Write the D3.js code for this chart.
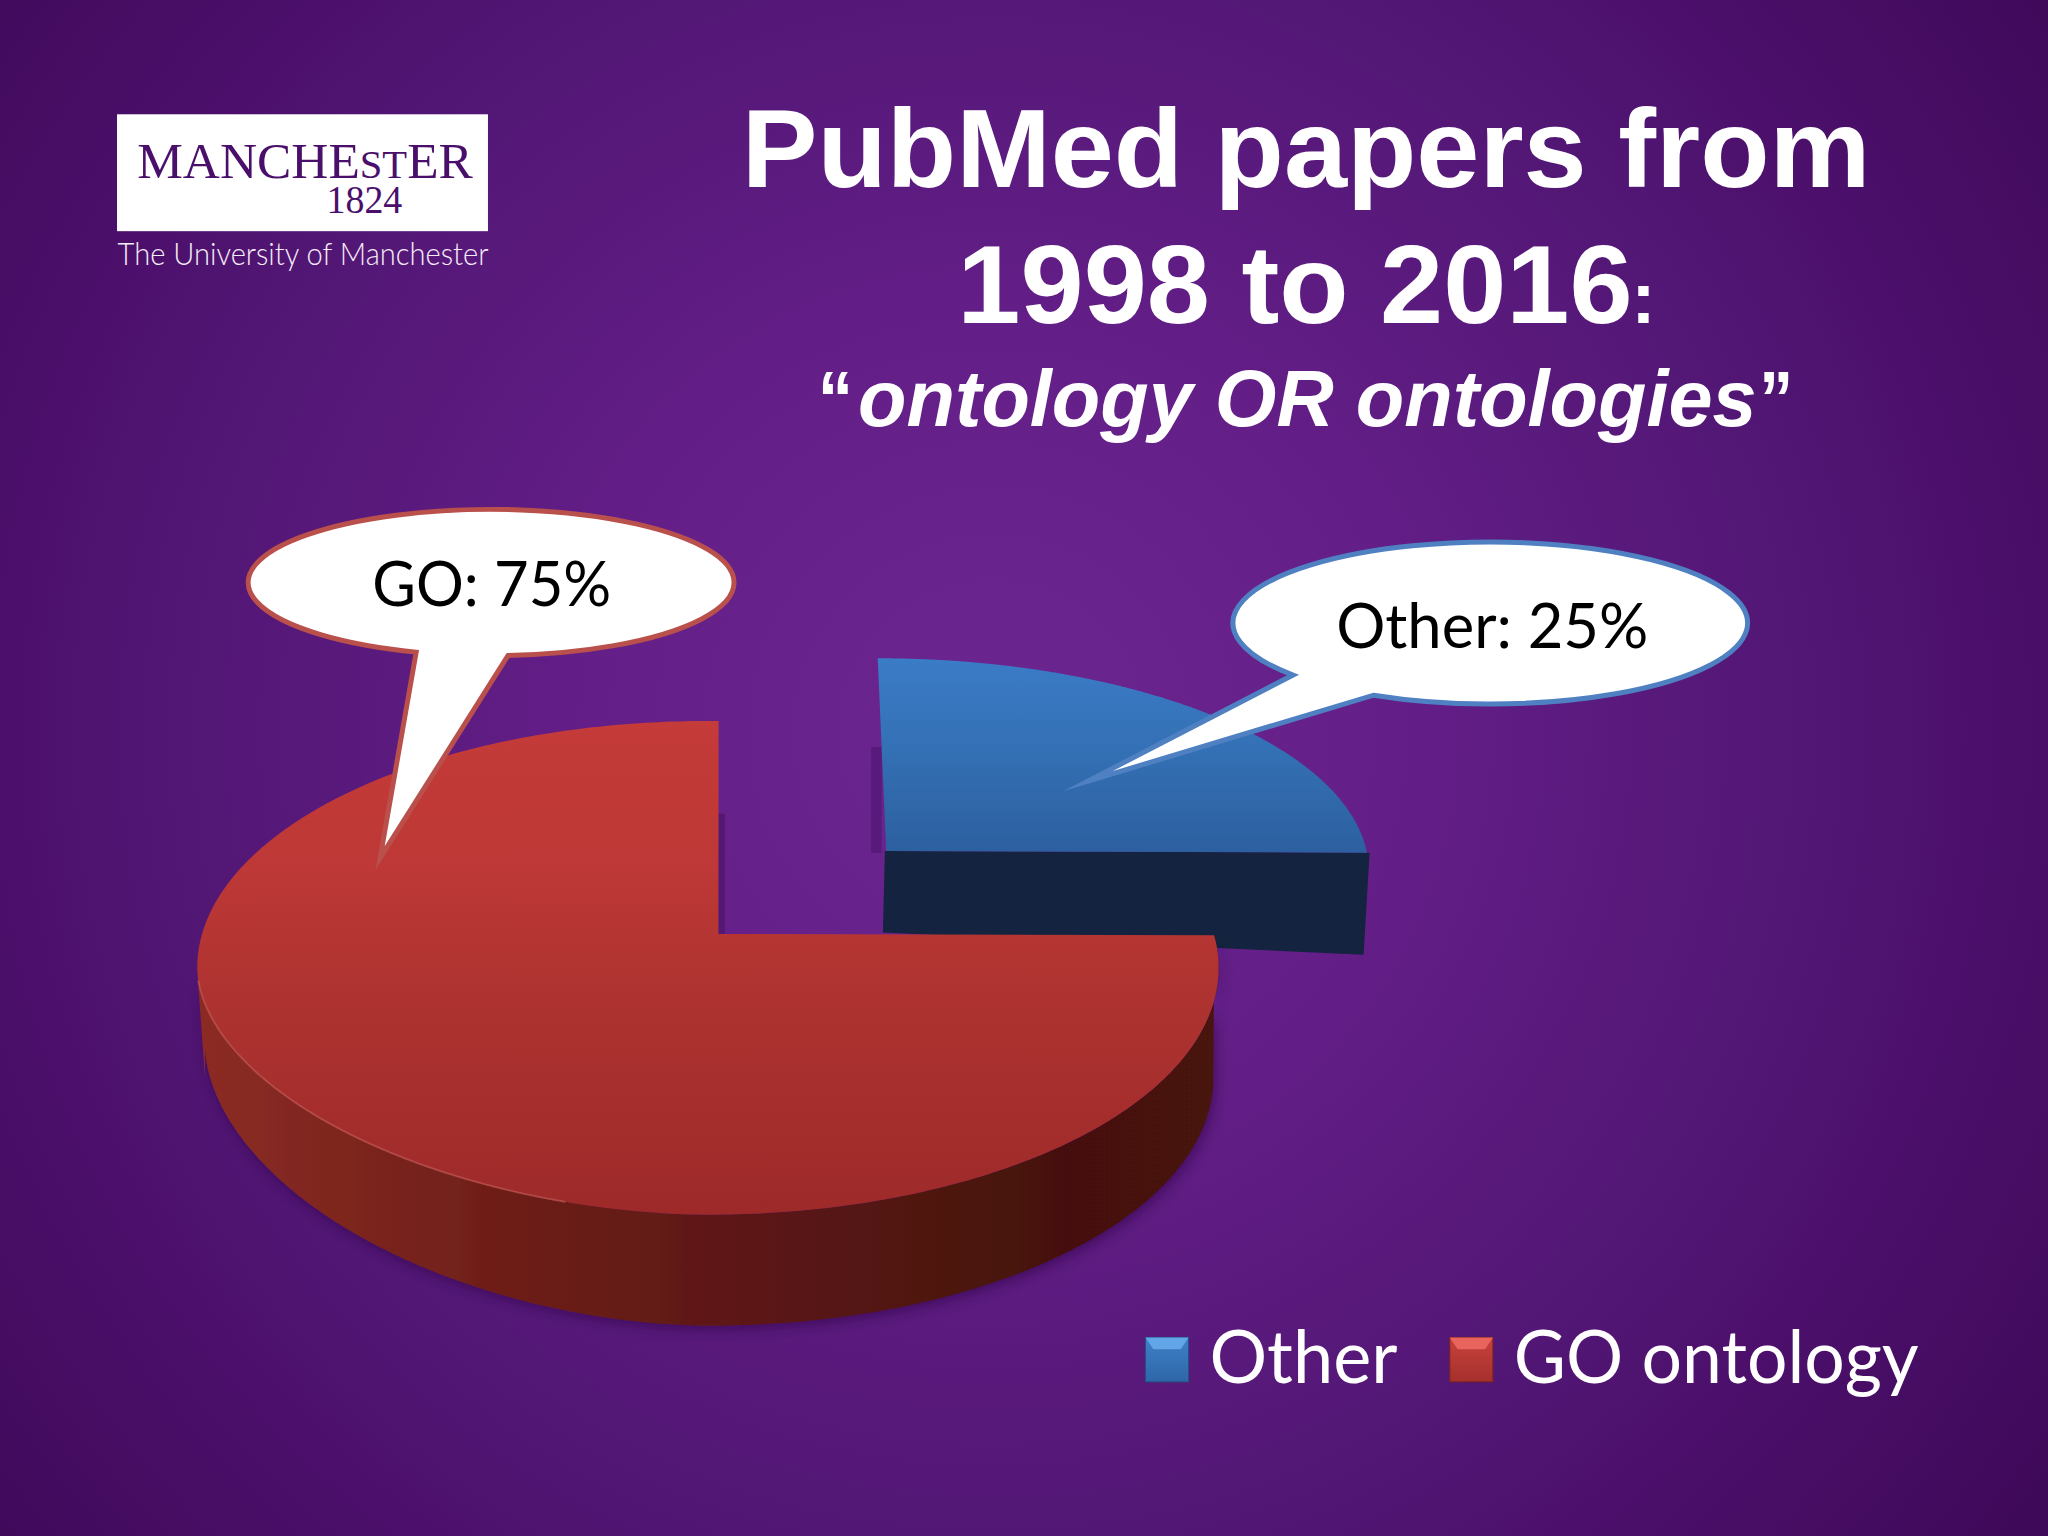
<!DOCTYPE html>
<html><head><meta charset="utf-8">
<script src="https://cdn.jsdelivr.net/npm/d3@7/dist/d3.min.js"></script>
<style>html,body{margin:0;padding:0;background:#4a0e6a}svg{display:block}</style>
</head><body><div id="c"></div>
<script>
const categories = ["Other", "GO ontology"];
const shares = [25, 75];
const calloutLabels = ["Other: 25%", "GO: 75%"];
const titleLines = ["PubMed papers from", "1998 to 2016"];
const subtitle = "ontology OR ontologies";

const svg = d3.select("#c").append("svg").attr("width", 2048).attr("height", 1536).attr("viewBox", "0 0 1568 1176");
const defs = svg.append("defs");
function grad(id, type, attrs, stops) {
  const g = defs.append(type).attr("id", id).attr("gradientUnits", "userSpaceOnUse");
  Object.entries(attrs).forEach(([k, v]) => g.attr(k, v));
  stops.forEach(([o, c]) => g.append("stop").attr("offset", o).attr("stop-color", c));
}
grad("bg", "radialGradient", {cx: 760, cy: 560, r: 1000}, [[0, "#6c2690"], [.28, "#651f89"], [.6, "#531776"], [.75, "#4c106c"], [1, "#3f0959"]]);
grad("redTop", "linearGradient", {x1: 0, y1: 552, x2: 0, y2: 930}, [[0, "#c43b39"], [.3, "#bd3836"], [.55, "#ae3330"], [1, "#9d2a29"]]);
grad("redSide", "linearGradient", {x1: 151, y1: 0, x2: 933, y2: 0}, [[0, "#8c2c24"], [.3, "#6e1e18"], [.6, "#581613"], [.85, "#45110e"], [1, "#481210"]]);
grad("blueTop", "linearGradient", {x1: 0, y1: 503, x2: 0, y2: 655}, [[0, "#3b7cc7"], [.5, "#336fb3"], [1, "#2c5f9f"]]);
grad("swB", "linearGradient", {x1: 0, y1: 1024, x2: 0, y2: 1058}, [[0, "#3f80c8"], [1, "#2e67a8"]]);
grad("swR", "linearGradient", {x1: 0, y1: 1024, x2: 0, y2: 1058}, [[0, "#c8423c"], [1, "#a5302c"]]);
const f = defs.append("filter").attr("id", "soft").attr("x", "-5%").attr("y", "-5%").attr("width", "110%").attr("height", "110%");
f.append("feDropShadow").attr("dx", 2).attr("dy", 3).attr("stdDeviation", 5).attr("flood-color", "#2a0540").attr("flood-opacity", .55);

svg.append("rect").attr("width", 1568).attr("height", 1176).attr("fill", "url(#bg)");

// Logo
const serif = "'Liberation Serif', serif", arial = "'Liberation Sans', Arial, sans-serif", lato = "Lato, sans-serif";
svg.append("rect").attr("x", 89.6).attr("y", 87.5).attr("width", 284).attr("height", 89.5).attr("fill", "#fff");
const lg = svg.append("text").attr("x", 105).attr("y", 136).attr("font-family", serif).attr("fill", "#4a0f6b").attr("font-size", 38)
  .attr("textLength", 257).attr("lengthAdjust", "spacingAndGlyphs");
lg.append("tspan").text("MANCHE");
lg.append("tspan").attr("font-size", 30).text("ST");
lg.append("tspan").text("ER");
svg.append("text").attr("x", 250).attr("y", 163).attr("font-family", serif).attr("fill", "#4a0f6b").attr("font-size", 30)
  .attr("textLength", 58).attr("lengthAdjust", "spacingAndGlyphs").text("1824");
svg.append("text").attr("x", 90).attr("y", 203).attr("font-family", lato).attr("font-weight", 300).attr("fill", "#f6ecf8").attr("font-size", 24.5)
  .attr("textLength", 284).attr("lengthAdjust", "spacingAndGlyphs").text("The University of Manchester");

// Title
const T = (x, y, size, txt, len, style) => {
  const s = svg.append("text").attr("x", x).attr("y", y).attr("font-family", arial).attr("font-weight", 700).attr("fill", "#fff").attr("font-size", size).attr("font-style", style || "normal").text(txt);
  if (len) s.attr("textLength", len).attr("lengthAdjust", "spacingAndGlyphs");
};
T(568, 143, 85, titleLines[0], 864);
T(733, 247, 85, titleLines[1], 517);
T(1249, 247, 56, ":");
T(626, 326, 60, "\u201c", 27);
T(657, 326.5, 61, subtitle, 688, "italic");
T(1347, 326, 60, "\u201d", 26);

// Pie geometry from d3.pie angles
const slices = d3.pie().sort(null).value(d => d)(shares);
const line = d3.line().x(d => d[0]).y(d => d[1]);
const deg = Math.PI / 180;
function rim(g, th) { // th in radians, clockwise from top
  const phi = th + (g.phase || 0) - (g.twist || 0) * Math.max(0, Math.sin(th));
  const x = g.cx + g.rx * Math.sin(phi);
  let y = g.cy - g.ry * Math.cos(phi);
  if (g.low && phi > Math.PI && phi < 1.5 * Math.PI) {
    const u = Math.abs(Math.sin(phi));
    y = g.low.cy + g.low.ry * Math.pow(1 - Math.pow(u, g.low.n), 1 / g.low.n);
  }
  return [x, y];
}
function rimPts(g, a, b) {
  return d3.range(0, 361).map(i => rim(g, a + (b - a) * i / 360));
}
const blueG = {cx: 672, cy: 667, rx: 376, ry: 163, twist: 5 * deg, vx: 678.5, vy: 651.6};
const redG = {cx: 542, cy: 741, rx: 391, ry: 189, phase: 1.2 * deg, twist: 8.8 * deg, vx: 550, vy: 715, low: {cy: 741, ry: 189, n: 1.85}};
const redBase = {cx: 543, cy: 825, rx: 386, ry: 190, low: {cy: 800, ry: 215, n: 1.85}};
const bl = slices[0], rd = slices[1];

// Blue wedge: side then top
const bA = rim(blueG, bl.endAngle);
svg.append("path").attr("d", line([[667, 572], [675, 572], [675, 653], [667, 653]]) + "Z").attr("fill", "#4c1572").attr("opacity", .6);
svg.append("path").attr("d", line([[blueG.vx - 1, blueG.vy], [bA[0] + 2, bA[1]], [1044, 731], [676, 714]]) + "Z").attr("fill", "#14233f");
svg.append("path").attr("d", line([[blueG.vx, blueG.vy], ...rimPts(blueG, bl.startAngle, bl.endAngle)]) + "Z").attr("fill", "url(#blueTop)");

// Red wedge: side then top
const sideTop = rimPts(redG, rd.startAngle, 268 * deg);
const sideBot = rimPts(redBase, 90 * deg, 270 * deg).reverse();
svg.append("path").attr("d", line([...sideTop, ...sideBot]) + "Z").attr("fill", "url(#redSide)").attr("filter", "url(#soft)");
svg.append("path").attr("d", line([[redG.vx, 623], [redG.vx + 5, 623], [redG.vx + 5, redG.vy], [redG.vx, redG.vy]]) + "Z").attr("fill", "#4a1568").attr("opacity", .7);
svg.append("path").attr("d", line([[redG.vx, redG.vy], ...rimPts(redG, rd.startAngle, rd.endAngle)]) + "Z").attr("fill", "url(#redTop)");
svg.append("path").attr("d", line(rimPts(redG, 195 * deg, 265 * deg))).attr("fill", "none").attr("stroke", "#c9605a").attr("stroke-width", 1.4).attr("opacity", .6);

// Callouts
function callout(c) {
  const p = a => [c.cx + c.rx * Math.cos(a), c.cy + c.ry * Math.sin(a)];
  const a0 = Math.atan2((c.b0[1] - c.cy) / c.ry, (c.b0[0] - c.cx) / c.rx);
  const a1 = Math.atan2((c.b1[1] - c.cy) / c.ry, (c.b1[0] - c.cx) / c.rx);
  const s = p(a0), e = p(a1);
  const d = `M${s}A${c.rx},${c.ry} 0 1 ${c.sweep} ${e}L${c.tip}Z`;
  svg.append("path").attr("d", d).attr("fill", "#fff").attr("stroke", c.stroke).attr("stroke-width", 3.8).attr("stroke-linejoin", "miter").attr("stroke-miterlimit", 15);
  svg.append("text").attr("x", c.tx).attr("y", c.ty).attr("font-family", lato).attr("fill", "#000").attr("font-size", 47)
    .attr("textLength", c.tw).attr("lengthAdjust", "spacingAndGlyphs").text(c.label);
}
callout({cx: 1141, cy: 477, rx: 197, ry: 62, b0: [1052, 532], b1: [993, 516], tip: [833, 598], sweep: 0, stroke: "#4f80c2", label: calloutLabels[0], tx: 1023, ty: 496, tw: 239});
callout({cx: 376, cy: 446, rx: 186, ry: 56, b0: [389, 502], b1: [320, 498], tip: [291, 657], sweep: 0, stroke: "#b9504c", label: calloutLabels[1], tx: 285, ty: 464, tw: 183});

// Legend
const legendX = d3.scaleOrdinal().domain(categories).range([877, 1110]);
const legendW = d3.scaleOrdinal().domain(categories).range([144, 310]);
const legendFill = d3.scaleOrdinal().domain(categories).range(["url(#swB)", "url(#swR)"]);
const legendHi = d3.scaleOrdinal().domain(categories).range(["#62a6e8", "#e8645c"]);
const legendEdge = d3.scaleOrdinal().domain(categories).range(["#23517f", "#7a231f"]);
const lgd = svg.selectAll("g.lg").data(categories).join("g").attr("class", "lg").attr("transform", d => `translate(${legendX(d)},0)`);
lgd.append("rect").attr("x", 0).attr("y", 1024).attr("width", 33).attr("height", 34).attr("fill", d => legendFill(d)).attr("stroke", d => legendEdge(d)).attr("stroke-width", .8);
lgd.append("path").attr("d", "M0,1024H33L27,1033H6Z").attr("fill", d => legendHi(d));
lgd.append("text").attr("x", 49).attr("y", 1059).attr("font-family", lato).attr("fill", "#fff").attr("font-size", 56)
  .attr("textLength", d => legendW(d)).attr("lengthAdjust", "spacingAndGlyphs").text(d => d);
</script></body></html>
